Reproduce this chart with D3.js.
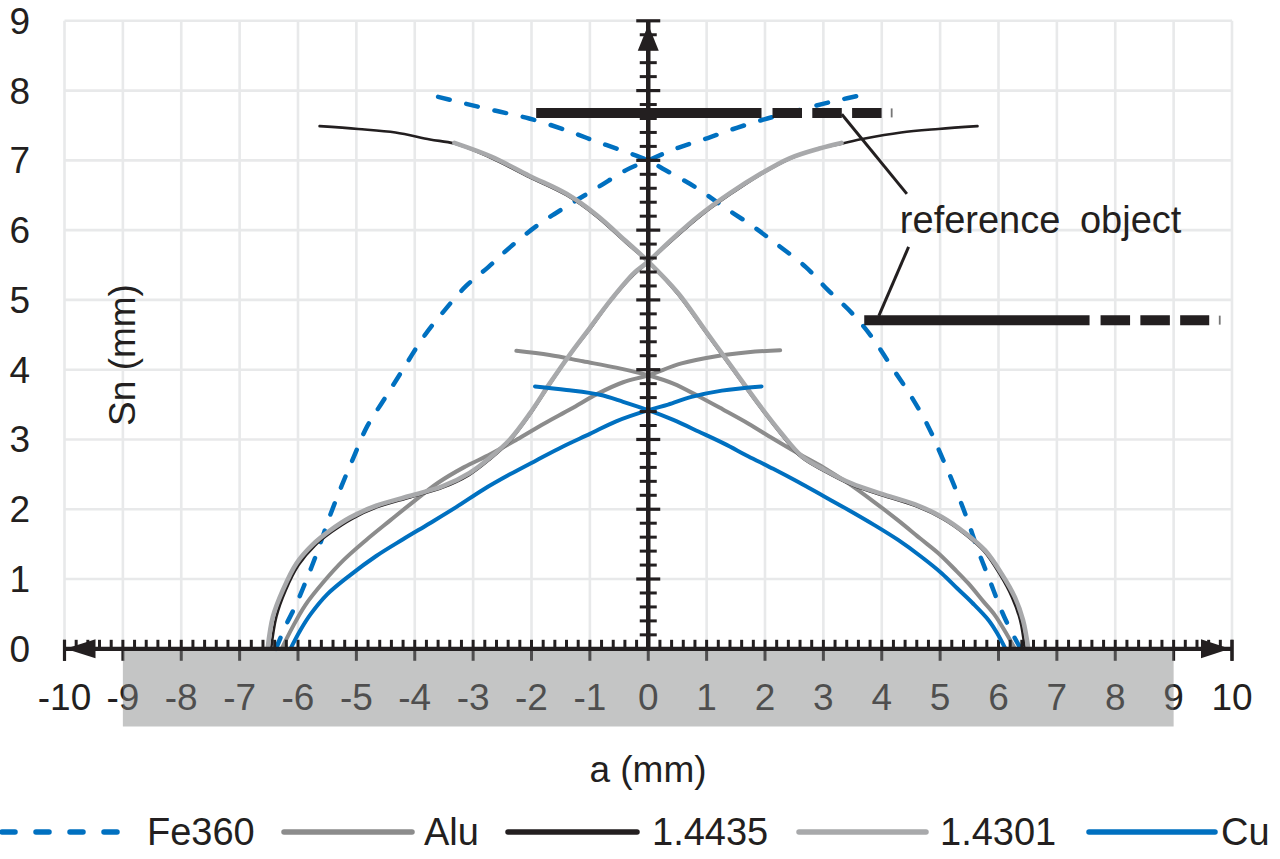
<!DOCTYPE html>
<html><head><meta charset="utf-8">
<script src="https://cdn.jsdelivr.net/npm/d3@7"></script>
<style>
html,body{margin:0;padding:0;background:#fff;}
svg{display:block;}
text{font-family:"Liberation Sans",Arial,Helvetica,sans-serif;fill:#231f20;}
</style>
</head><body>
<svg id="chart" width="1280" height="859"></svg>
<script>
// ---------------- DATA ----------------
const seriesNames = ["Fe360", "Alu", "1.4435", "1.4301", "Cu"];
const xTickValues = [-10,-9,-8,-7,-6,-5,-4,-3,-2,-1,0,1,2,3,4,5,6,7,8,9,10];
const xTickLabels = ["-10","-9","-8","-7","-6","-5","-4","-3","-2","-1","0","1","2","3","4","5","6","7","8","9","10"];
const yTickValues = [0,1,2,3,4,5,6,7,8,9];
const yTickLabels = ["0","1","2","3","4","5","6","7","8","9"];
const xAxisTitle = "a (mm)";
const yAxisTitle = "Sn (mm)";
const annotationText = "reference object";

// Fe360
const fe360Rise = [[-6.38,0],[-6.2,0.35],[-6.04,0.62],[-5.84,1.02],[-5.66,1.41],[-5.46,1.89],[-5.26,2.32],[-5.05,2.74],[-4.82,3.18],[-4.52,3.58],[-4.19,4.02],[-3.84,4.48],[-3.5,4.84],[-3.12,5.2],[-2.74,5.47],[-2.36,5.76],[-1.88,6.08],[-1.4,6.34],[-0.85,6.62],[-0.38,6.86],[0,7.0],[0.51,7.18],[1.02,7.32],[1.53,7.47],[2.04,7.6],[2.5,7.7],[2.99,7.81],[3.3,7.87],[3.57,7.92]];
const fe360Fall = [[-3.6,7.91],[-3.12,7.81],[-2.61,7.71],[-2.04,7.6],[-1.4,7.43],[-0.89,7.27],[-0.38,7.12],[0,7.0],[0.25,6.88],[0.8,6.62],[1.3,6.33],[1.8,6.05],[2.2,5.8],[2.7,5.47],[3.08,5.14],[3.5,4.8],[3.82,4.48],[4.17,4.04],[4.51,3.61],[4.8,3.18],[5.03,2.75],[5.25,2.32],[5.45,1.89],[5.65,1.41],[5.85,0.98],[6.05,0.55],[6.2,0.28],[6.38,0]];
// Alu
const aluRise = [[-6.28,0],[-6.1,0.3],[-5.88,0.62],[-5.56,0.96],[-5.22,1.27],[-4.83,1.56],[-4.42,1.84],[-4.02,2.11],[-3.6,2.38],[-3.16,2.6],[-2.7,2.79],[-2.25,3.0],[-1.78,3.23],[-1.32,3.44],[-0.88,3.65],[-0.43,3.82],[0,3.92],[0.57,4.09],[1.14,4.19],[1.71,4.25],[2.26,4.28]];
const aluFall = [[-2.26,4.27],[-1.69,4.21],[-1.12,4.12],[-0.55,4.03],[0,3.92],[0.43,3.8],[0.86,3.62],[1.28,3.43],[1.71,3.23],[2.14,3.01],[2.57,2.8],[3.0,2.6],[3.43,2.37],[3.86,2.11],[4.28,1.84],[4.66,1.58],[4.97,1.37],[5.25,1.14],[5.48,0.94],[5.74,0.68],[5.94,0.48],[6.12,0.24],[6.28,0]];
// 1.4435
const s14435Rise = [[-6.46,0],[-6.37,0.46],[-6.21,0.84],[-5.99,1.2],[-5.71,1.48],[-5.43,1.67],[-5.08,1.86],[-4.64,2.03],[-4.08,2.17],[-3.52,2.31],[-3.07,2.49],[-2.72,2.71],[-2.38,2.97],[-2.04,3.34],[-1.7,3.77],[-1.35,4.2],[-1.0,4.58],[-0.64,4.99],[-0.25,5.36],[0,5.54],[0.38,5.83],[0.89,6.2],[1.4,6.51],[1.91,6.79],[2.42,7.02],[2.93,7.17],[3.31,7.24],[3.69,7.31],[4.33,7.4],[4.97,7.45],[5.64,7.49]];
const s14435Fall = [[-5.63,7.49],[-4.97,7.45],[-4.33,7.4],[-3.74,7.3],[-3.32,7.24],[-2.68,7.03],[-2.04,6.76],[-1.4,6.5],[-0.89,6.2],[-0.38,5.82],[0,5.54],[0.51,5.08],[0.97,4.55],[1.43,4.02],[1.88,3.5],[2.28,3.07],[2.63,2.74],[3.03,2.54],[3.48,2.35],[4.0,2.2],[4.57,2.05],[5.03,1.87],[5.43,1.64],[5.75,1.4],[6.02,1.07],[6.23,0.74],[6.37,0.41],[6.45,0]];
// 1.4301
const s14301Rise = [[-6.52,0],[-6.43,0.46],[-6.26,0.84],[-6.03,1.22],[-5.74,1.5],[-5.46,1.69],[-5.11,1.88],[-4.66,2.05],[-4.09,2.19],[-3.52,2.33],[-3.06,2.52],[-2.71,2.74],[-2.37,3.0],[-2.03,3.37],[-1.69,3.8],[-1.34,4.22],[-1.0,4.6],[-0.64,5.0],[-0.25,5.38],[0,5.55],[0.38,5.85],[0.89,6.22],[1.4,6.53],[1.91,6.8],[2.42,7.03],[2.93,7.17],[3.31,7.25]];
const s14301Fall = [[-3.32,7.25],[-2.68,7.05],[-2.04,6.78],[-1.4,6.52],[-0.89,6.22],[-0.38,5.84],[0,5.55],[0.51,5.1],[0.97,4.57],[1.43,4.04],[1.88,3.52],[2.28,3.09],[2.63,2.76],[3.03,2.56],[3.48,2.37],[4.0,2.22],[4.57,2.07],[5.03,1.89],[5.43,1.66],[5.77,1.41],[6.05,1.08],[6.28,0.74],[6.42,0.41],[6.51,0]];
// Cu
const cuRise = [[-6.13,0],[-5.95,0.28],[-5.78,0.5],[-5.5,0.78],[-5.1,1.06],[-4.66,1.33],[-4.2,1.57],[-3.74,1.8],[-3.29,2.03],[-2.83,2.28],[-2.37,2.5],[-1.92,2.7],[-1.46,2.9],[-1.0,3.08],[-0.55,3.26],[0,3.42],[0.34,3.5],[0.74,3.61],[1.26,3.7],[1.94,3.76]];
const cuFall = [[-1.94,3.76],[-1.4,3.71],[-0.83,3.64],[-0.43,3.54],[0,3.42],[0.43,3.28],[0.87,3.11],[1.3,2.94],[1.71,2.76],[2.14,2.58],[2.57,2.39],[3.0,2.19],[3.43,1.99],[3.86,1.78],[4.28,1.56],[4.66,1.33],[5.03,1.08],[5.3,0.86],[5.55,0.66],[5.83,0.41],[5.98,0.22],[6.12,0]];

// reference objects
const refBarY = [7.68, 4.71];
const refBarSolidStart = [-1.92, 3.70];
const refBarSolidEnd = [1.94, 7.56];
const refBarDashEnd = [4.0, 9.61];
const refBarCapX = [4.17, 9.79];
const leaderLines = [[[3.315,7.66],[4.43,6.52]], [[4.46,5.76],[3.95,4.77]]];
const annotationPos = [4.31, 5.96];
const bandRange = [-9, 9];

// ---------------- STYLE ----------------
const styles = {
  "Fe360": {color:"#0070c0", width:4.5, dash:"12,17"},
  "Alu": {color:"#8c8c8c", width:4, dash:null},
  "1.4435": {color:"#231f20", width:2.6, dash:null},
  "1.4301": {color:"#a8a9ab", width:4.6, dash:null},
  "Cu": {color:"#0070c0", width:4, dash:null}
};
const seriesData = {
  "Fe360":[fe360Rise, fe360Fall],
  "Alu":[aluRise, aluFall],
  "1.4435":[s14435Rise, s14435Fall],
  "1.4301":[s14301Rise, s14301Fall],
  "Cu":[cuRise, cuFall]
};

const svg = d3.select("#chart");
const x = d3.scaleLinear().domain([-10,10]).range([64.5,1232]);
const y = d3.scaleLinear().domain([0,9]).range([648.8,20.8]);
const ink = "#231f20";

// gridlines
const grid = svg.append("g");
grid.selectAll("line.v").data(xTickValues).join("line")
  .attr("x1", d=>x(d)).attr("x2", d=>x(d)).attr("y1", y(0)).attr("y2", y(9))
  .attr("stroke","#e8e9ea").attr("stroke-width",2.6);
grid.selectAll("line.h").data(yTickValues.filter(d=>d>0)).join("line")
  .attr("x1", x(-10)).attr("x2", x(10)).attr("y1", d=>y(d)).attr("y2", d=>y(d))
  .attr("stroke","#e8e9ea").attr("stroke-width",2.6);

// x tick labels & lower major ticks (below band)
const xAxisG = svg.append("g");
xAxisG.selectAll("text").data(xTickValues).join("text")
  .attr("x", d=>x(d)).attr("y", 710).attr("text-anchor","middle")
  .attr("font-size",37).text((d,i)=>xTickLabels[i]);
xAxisG.selectAll("line.maj").data(xTickValues).join("line")
  .attr("x1", d=>x(d)).attr("x2", d=>x(d)).attr("y1", y(0)-9).attr("y2", y(0)+12)
  .attr("stroke", ink).attr("stroke-width",3);

// semi-transparent grey band
svg.append("rect").attr("x", x(bandRange[0])).attr("width", x(bandRange[1])-x(bandRange[0]))
  .attr("y", y(0)+2).attr("height", 726.5-(y(0)+2))
  .attr("fill","rgb(130,132,132)").attr("fill-opacity",0.47);

// curves
const line = d3.line().x(d=>x(d[0])).y(d=>y(d[1])).curve(d3.curveCatmullRom.alpha(0.5));
const curves = svg.append("g");
seriesNames.forEach(name=>{
  const st = styles[name];
  seriesData[name].forEach(arr=>{
    curves.append("path").attr("d", line(arr)).attr("fill","none")
      .attr("stroke", st.color).attr("stroke-width", st.width)
      .attr("stroke-linecap","round").attr("stroke-linejoin","round")
      .attr("stroke-dasharray", st.dash);
  });
});

// axes
const ax = svg.append("g");
ax.append("line").attr("x1", x(-10)).attr("x2", x(10)).attr("y1", y(0)).attr("y2", y(0))
  .attr("stroke", ink).attr("stroke-width",4.2);
const xMinor = d3.range(-49,50).map(i=>i*0.2).filter(v=>Math.abs(Math.round(v)-v)>1e-6);
ax.selectAll("line.xm").data(xMinor).join("line")
  .attr("x1", d=>x(d)).attr("x2", d=>x(d)).attr("y1", y(0)-9).attr("y2", y(0))
  .attr("stroke", ink).attr("stroke-width",3);
[-10,10].forEach(v=>{
  ax.append("line").attr("x1",x(v)).attr("x2",x(v)).attr("y1",y(0)-9).attr("y2",y(0)+12)
    .attr("stroke",ink).attr("stroke-width",3.2);
});
ax.append("path").attr("d", `M${x(-10)+1},${y(0)} L${x(-10)+31},${y(0)-9.5} L${x(-10)+31},${y(0)+9.5} Z`).attr("fill",ink);
ax.append("path").attr("d", `M${x(10)-2},${y(0)} L${x(10)-31},${y(0)-9.5} L${x(10)-31},${y(0)+9.5} Z`).attr("fill",ink);

ax.append("line").attr("x1", x(0)).attr("x2", x(0)).attr("y1", y(0)).attr("y2", y(9))
  .attr("stroke", ink).attr("stroke-width",4.5);
const yMinor = d3.range(1,45).map(i=>i*0.2).filter(v=>Math.abs(Math.round(v)-v)>1e-6);
ax.selectAll("line.ym").data(yMinor).join("line")
  .attr("x1", x(0)-8.5).attr("x2", x(0)+8.5).attr("y1", d=>y(d)).attr("y2", d=>y(d))
  .attr("stroke", ink).attr("stroke-width",3);
ax.selectAll("line.yM").data(yTickValues.filter(d=>d>0)).join("line")
  .attr("x1", x(0)-12).attr("x2", x(0)+12).attr("y1", d=>y(d)).attr("y2", d=>y(d))
  .attr("stroke", ink).attr("stroke-width",3.2);
ax.append("path").attr("d", `M${x(0)},${y(9)+4} L${x(0)-10.5},${y(9)+30} L${x(0)+10.5},${y(9)+30} Z`).attr("fill",ink);

// reference objects
const ref = svg.append("g");
refBarY.forEach((yy,i)=>{
  ref.append("line").attr("x1", x(refBarSolidStart[i])).attr("x2", x(refBarSolidEnd[i]))
    .attr("y1", y(yy)).attr("y2", y(yy)).attr("stroke", ink).attr("stroke-width",10);
  ref.append("line").attr("x1", x(refBarSolidEnd[i])+11).attr("x2", x(refBarDashEnd[i]))
    .attr("y1", y(yy)).attr("y2", y(yy)).attr("stroke", ink).attr("stroke-width",10)
    .attr("stroke-dasharray","29.5,10.3");
  ref.append("line").attr("x1", x(refBarCapX[i])).attr("x2", x(refBarCapX[i]))
    .attr("y1", y(yy)-4.5).attr("y2", y(yy)+4.5).attr("stroke","#777").attr("stroke-width",1.8);
});
leaderLines.forEach(l=>{
  ref.append("line").attr("x1", x(l[0][0])).attr("y1", y(l[0][1]))
    .attr("x2", x(l[1][0])).attr("y2", y(l[1][1])).attr("stroke", ink).attr("stroke-width",3);
});
ref.append("text").attr("x", x(annotationPos[0])).attr("y", y(annotationPos[1]))
  .attr("font-size",38).attr("word-spacing","9px").text(annotationText);

// y tick labels
svg.append("g").selectAll("text").data(yTickValues).join("text")
  .attr("x", 30).attr("y", d=>y(d)+13).attr("text-anchor","end")
  .attr("font-size",37).text((d,i)=>yTickLabels[i]);

// axis titles
svg.append("text").attr("transform","translate(135,355) rotate(-90)")
  .attr("text-anchor","middle").attr("font-size",37).text(yAxisTitle);
svg.append("text").attr("x", 648).attr("y", 782).attr("text-anchor","middle")
  .attr("font-size",37).text(xAxisTitle);

// legend
const legendLineX = [[0,122],[282,412],[506,637],[797,926],[1087,1215]];
const legendTextX = [147,424,652,940,1221];
const legY = 832;
const leg = svg.append("g");
seriesNames.forEach((name,i)=>{
  const st = styles[name];
  leg.append("line").attr("x1", legendLineX[i][0]+2).attr("x2", legendLineX[i][1])
    .attr("y1", legY).attr("y2", legY).attr("stroke", st.color).attr("stroke-width",5.5)
    .attr("stroke-linecap","round")
    .attr("stroke-dasharray", st.dash ? "13,21" : null);
  leg.append("text").attr("x", legendTextX[i]).attr("y", legY+13).attr("font-size",38).text(name);
});
</script>
</body></html>
